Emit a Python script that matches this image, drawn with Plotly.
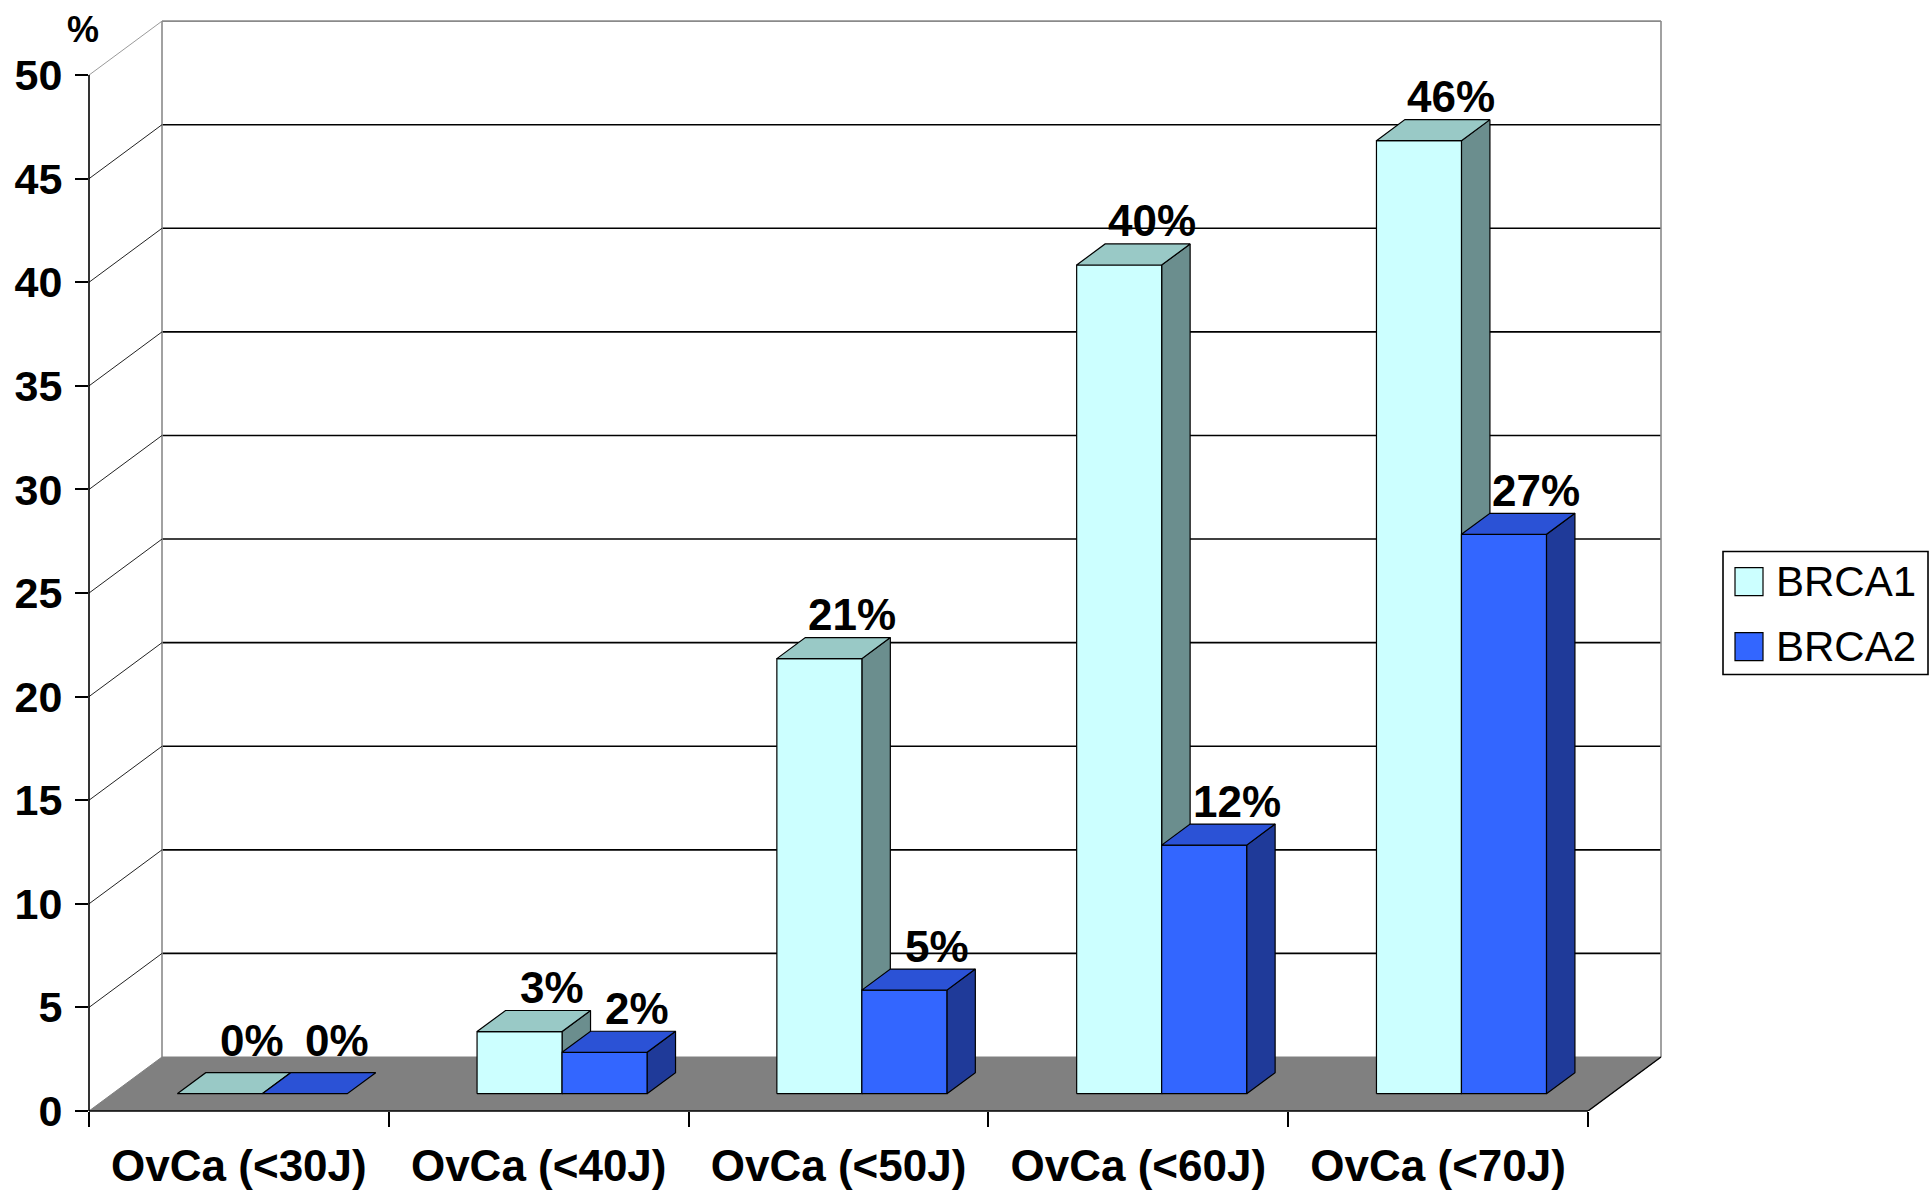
import plotly.graph_objects as go

# ---------------- data ----------------
categories = ["OvCa (<30J)", "OvCa (<40J)", "OvCa (<50J)", "OvCa (<60J)", "OvCa (<70J)"]
brca1 = [0, 3, 21, 40, 46]
brca2 = [0, 2, 5, 12, 27]
series_names = ["BRCA1", "BRCA2"]
y_tick_values = [0, 5, 10, 15, 20, 25, 30, 35, 40, 45, 50]
y_unit_label = "%"

# ---------------- styling / geometry ----------------
FONT = "Liberation Sans, Arial, sans-serif"
FRONT_COLORS = ["#CCFFFF", "#3366FF"]
TOP_COLORS = ["#99C9C6", "#2B52D6"]
SIDE_COLORS = ["#6B8E8E", "#1F3A99"]
FLOOR_COLOR = "#808080"

W_PX, H_PX = 1930, 1196
X0_PX = 89.0      # pixel of x = -0.5 (front y axis)
KX = 299.8        # px per category unit
Y0_PX = 1111.5    # pixel of y = 0 (front floor edge)
KY = 20.72        # px per value unit

DX = 73 / KX      # 3D depth offset (x units)
DY = 54 / KY      # 3D depth offset (value units)
T_FRONT, T_BACK = 0.32, 0.71   # bar front/back depth fraction
BAR_W = 85 / KX

n = len(categories)
x_min = -0.5
x_max = n - 0.5 + DX + 0.02
y_min = 0.0
y_max = max(y_tick_values) + DY + 0.15

m_l = X0_PX
m_r = W_PX - (X0_PX + (x_max - x_min) * KX)
m_b = H_PX - Y0_PX
m_t = Y0_PX - (y_max - y_min) * KY

fig = go.Figure()


def add_poly(xs, ys, fill, line_color="black", width=1.2):
    fig.add_trace(go.Scatter(
        x=xs + [xs[0]], y=ys + [ys[0]], mode="lines", fill="toself",
        fillcolor=fill, line=dict(color=line_color, width=width),
        hoverinfo="skip", showlegend=False))


def add_lines(segments, color, width):
    xs, ys = [], []
    for (xa, ya), (xb, yb) in segments:
        xs += [xa, xb, None]
        ys += [ya, yb, None]
    fig.add_trace(go.Scatter(x=xs, y=ys, mode="lines",
                             line=dict(color=color, width=width),
                             hoverinfo="skip", showlegend=False))


x_left = -0.5
x_right = n - 0.5
y_top = max(y_tick_values)

# back wall gridlines
add_lines([((x_left + DX, v + DY), (x_right + DX, v + DY)) for v in y_tick_values[1:-1]], "black", 1.6)
# back wall border
add_lines([((x_left + DX, DY), (x_left + DX, y_top + DY)),
           ((x_left + DX, y_top + DY), (x_right + DX, y_top + DY)),
           ((x_right + DX, DY), (x_right + DX, y_top + DY))], "#8a8a8a", 1.6)
# left wall diagonals
add_lines([((x_left, v), (x_left + DX, v + DY)) for v in y_tick_values[1:-1]], "#222222", 1.0)
add_lines([((x_left, y_top), (x_left + DX, y_top + DY))], "#9a9a9a", 1.0)

# floor
add_poly([x_left, x_right, x_right + DX, x_left + DX], [0, 0, DY, DY], FLOOR_COLOR, "#808080", 1)
add_lines([((x_right, 0), (x_right + DX, DY))], "black", 1.4)

# bars
label_ann = []
for i in range(n):
    for s, vals in enumerate([brca1, brca2]):
        v = vals[i]
        xl = i - BAR_W + s * BAR_W
        xr = xl + BAR_W
        fx, fy = T_FRONT * DX, T_FRONT * DY
        bx, by = T_BACK * DX, T_BACK * DY
        if v > 0:
            # side face
            add_poly([xr + fx, xr + bx, xr + bx, xr + fx],
                     [fy, by, v + by, v + fy], SIDE_COLORS[s])
            # front face
            add_poly([xl + fx, xr + fx, xr + fx, xl + fx],
                     [fy, fy, v + fy, v + fy], FRONT_COLORS[s])
        # top face
        add_poly([xl + fx, xr + fx, xr + bx, xl + bx],
                 [v + fy, v + fy, v + by, v + by], TOP_COLORS[s])
        label_ann.append(dict(
            x=(xl + xr) / 2 + bx, y=v + by, xref="x", yref="y",
            text=f"<b>{v}%</b>", showarrow=False, xanchor="center", yanchor="middle",
            xshift=4, yshift=23 if v > 0 else 32,
            font=dict(family=FONT, size=44, color="black")))

# front axis lines (not clipped: paper refs)
fig.add_shape(type="line", xref="paper", yref="y", x0=0, x1=0, y0=0, y1=y_top,
              line=dict(color="black", width=1.6))
fig.add_shape(type="line", xref="x", yref="paper", x0=x_left, x1=x_right, y0=0, y1=0,
              line=dict(color="black", width=1.6))

# ---------------- legend (drawn) ----------------
def px_x(p):
    return (p - m_l) / (W_PX - m_l - m_r)


def px_y(p):
    return (H_PX - m_b - p) / (H_PX - m_t - m_b)


fig.add_shape(type="rect", xref="paper", yref="paper",
              x0=px_x(1723), x1=px_x(1928), y0=px_y(675), y1=px_y(552),
              line=dict(color="black", width=1.6), fillcolor="white")
for k, name in enumerate(series_names):
    cy = 582 + 65 * k
    fig.add_shape(type="rect", xref="paper", yref="paper",
                  x0=px_x(1735), x1=px_x(1763), y0=px_y(cy + 14), y1=px_y(cy - 14),
                  line=dict(color="black", width=1.2), fillcolor=FRONT_COLORS[k])
    label_ann.append(dict(x=px_x(1774), y=px_y(cy), xref="paper", yref="paper",
                          text=name, showarrow=False, xanchor="left", yanchor="middle",
                          font=dict(family=FONT, size=42, color="black")))

label_ann.append(dict(x=px_x(83), y=px_y(30), xref="paper", yref="paper",
                      text=f"<b>{y_unit_label}</b>", showarrow=False,
                      xanchor="center", yanchor="middle",
                      font=dict(family=FONT, size=36, color="black")))

fig.update_layout(
    width=W_PX, height=H_PX, autosize=False,
    margin=dict(l=m_l, r=m_r, t=m_t, b=m_b, pad=0, autoexpand=False),
    paper_bgcolor="white", plot_bgcolor="white",
    showlegend=False,
    annotations=label_ann,
    xaxis=dict(range=[x_min, x_max], showgrid=False, zeroline=False, showline=False,
               automargin=False,
               tickmode="array", tickvals=list(range(n)),
               ticktext=[f"<b>{c}</b>" for c in categories],
               ticks="", ticklabelstandoff=25,
               tickfont=dict(family=FONT, size=44, color="black"),
               minor=dict(tickmode="array", tickvals=[k - 0.5 for k in range(n + 1)],
                          ticks="outside", ticklen=15, tickwidth=1.6, tickcolor="black",
                          showgrid=False)),
    yaxis=dict(range=[y_min, y_max], showgrid=False, zeroline=False, showline=False,
               automargin=False,
               tickmode="array", tickvals=y_tick_values,
               ticktext=[f"<b>{v}</b>" for v in y_tick_values],
               ticks="outside", ticklen=13, tickwidth=1.6, tickcolor="black",
               ticklabelstandoff=4,
               tickfont=dict(family=FONT, size=43, color="black")),
)

fig.write_html("out.html")
